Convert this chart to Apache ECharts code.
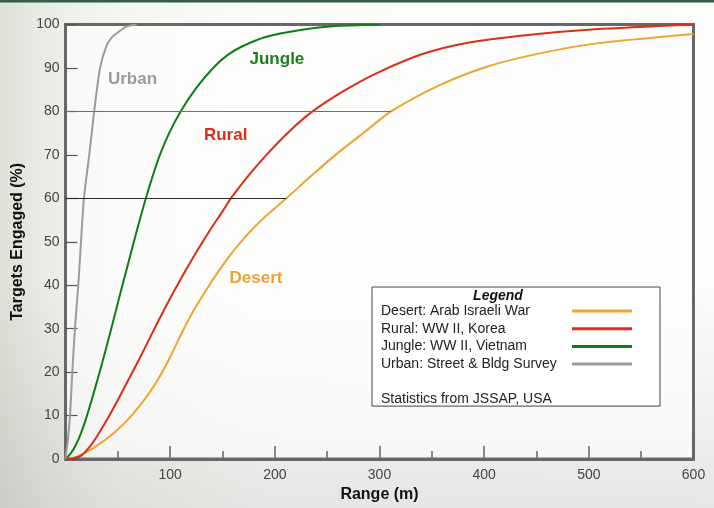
<!DOCTYPE html>
<html>
<head>
<meta charset="utf-8">
<script src="https://cdn.jsdelivr.net/npm/echarts@6/dist/echarts.min.js"></script>
<style>
html, body { margin: 0; padding: 0; }
body {
  width: 714px; height: 508px; overflow: hidden;
  background:
    linear-gradient(180deg, #2f5f45 0px, #2f5f45 2px, rgba(0,0,0,0) 3px),
    linear-gradient(180deg, rgba(0,0,0,0) 55%, rgba(0,0,0,0.09) 100%),
    linear-gradient(90deg, #dde1d8 0px, #e9ece5 45px, #f5f6f2 120px, #fcfcfa 260px, #fdfdfc 714px);
}
#chart { width: 714px; height: 508px; }
</style>
</head>
<body>
<div id="chart"></div>
<script>
// ---- data (range in metres, targets engaged in %) ----
const seriesNames = ['Desert: Arab Israeli War', 'Rural: WW II, Korea', 'Jungle: WW II, Vietnam', 'Urban: Street & Bldg Survey'];
const curveLabels = ['Desert', 'Rural', 'Jungle', 'Urban'];

const desertRange = [0, 10, 20, 30, 40, 50, 60, 70, 80, 90, 100, 110, 122, 136, 150, 166, 185, 211, 234, 258, 287, 311, 357, 404, 452, 506, 600];
const desertPct   = [0, 0.5, 1.6, 3.1, 4.8, 6.8, 9.2, 12, 15.2, 19, 23.5, 28.5, 34, 39.5, 44.5, 49.5, 54.5, 60, 65, 70, 75.5, 80, 86, 90.4, 93.3, 95.6, 97.8];

const ruralRange = [0, 8, 15, 23, 30, 40, 50, 60, 70, 80, 90, 100, 110, 120, 130, 140, 150, 158, 174, 192, 212, 236, 268, 300, 341, 382, 442, 506, 600];
const ruralPct   = [0, 0.2, 0.8, 2.8, 5.2, 9.2, 13.6, 18.2, 22.8, 27.6, 32.4, 37, 41.4, 45.6, 49.6, 53.4, 57, 60, 65, 70, 75, 80, 85, 89.1, 93.2, 95.7, 97.6, 98.9, 100];

const jungleRange = [0, 5, 10, 15, 20, 25, 30, 35, 40, 45, 52, 58, 64, 70, 76, 83, 90, 99, 110, 125, 141, 155, 169, 192, 223, 255, 300];
const junglePct   = [0, 1.3, 3.3, 6.1, 9.6, 13.6, 17.8, 22.1, 26.6, 31.2, 37.8, 43.3, 48.8, 54.2, 59.4, 64.9, 69.9, 75, 80, 85.4, 90, 93, 95, 97.2, 98.7, 99.6, 100];

const urbanRange = [0, 1, 2.5, 4.3, 6.5, 9, 12.2, 14.8, 17.6, 22.7, 27.4, 33, 39, 44, 49, 58, 68];
const urbanPct   = [0, 2, 5, 10, 20, 30, 40, 50, 60, 70, 80, 90, 95, 97, 98, 99.5, 100];

// curve label anchor positions [range, pct]
const labelPos = [[182, 41.7], [153, 74.6], [202, 92], [64, 87.5]];
// reference lines: [pct, end range]
const refLines = [[80, 311], [60, 211]];

const xTicks = [0, 100, 200, 300, 400, 500, 600];
const yTicks = [0, 10, 20, 30, 40, 50, 60, 70, 80, 90, 100];

// ---- styling ----
const FONT = 'Liberation Sans, Arial, sans-serif';
const lineColors  = ['#f0a330', '#dc2e14', '#0e7d12', '#9b9b9b'];
const labelColors = ['#eea236', '#d8301c', '#1b7d1b', '#9a9a9a'];

function zip(xs, ys) { return xs.map((x, i) => [x, ys[i]]); }
const allData = [zip(desertRange, desertPct), zip(ruralRange, ruralPct), zip(jungleRange, junglePct), zip(urbanRange, urbanPct)];

const series = allData.map((d, i) => {
  const s = {
    name: seriesNames[i],
    type: 'line',
    data: d,
    showSymbol: false,
    symbol: 'none',
    smooth: 0.25,
    lineStyle: { color: lineColors[i], width: 2 },
    itemStyle: { color: lineColors[i] },
    z: 3,
    markPoint: {
      silent: true,
      symbol: 'rect',
      symbolSize: 1,
      itemStyle: { color: 'rgba(0,0,0,0)' },
      label: {
        show: true, position: 'inside', formatter: curveLabels[i],
        color: labelColors[i], fontSize: 17, fontWeight: 'bold', fontFamily: FONT
      },
      data: [{ coord: labelPos[i] }]
    }
  };
  if (i === 0) {
    s.markLine = {
      silent: true,
      symbol: ['none', 'none'],
      label: { show: false },
      lineStyle: { type: 'solid', width: 1 },
      data: refLines.map((r, k) => [
        { coord: [0, r[0]], lineStyle: { color: k === 0 ? '#6f6f6f' : '#2a2a2a', width: 1, type: 'solid' } },
        { coord: [r[1], r[0]] }
      ])
    };
  }
  return s;
});

const chart = echarts.init(document.getElementById('chart'), null, { renderer: 'canvas' });
chart.setOption({
  animation: false,
  textStyle: { fontFamily: FONT },
  grid: {
    left: 65.5, right: 20.5, top: 24.5, bottom: 48.5,
    show: true, borderColor: '#676767', borderWidth: 3,
    backgroundColor: 'rgba(255,255,255,0.62)'
  },
  xAxis: {
    type: 'value', min: xTicks[0], max: xTicks[xTicks.length - 1], interval: 100,
    name: 'Range (m)', nameLocation: 'middle', nameGap: 26,
    nameTextStyle: { fontSize: 16, fontWeight: 'bold', color: '#111', fontFamily: FONT },
    axisLine: { show: true, lineStyle: { color: '#676767', width: 3 } },
    axisTick: { show: true, inside: true, length: 13, lineStyle: { color: '#666', width: 1.5 } },
    minorTick: { show: true, splitNumber: 2, length: 8, lineStyle: { color: '#666', width: 1.5 } },
    splitLine: { show: false },
    axisLabel: { fontSize: 14, color: '#444', margin: 9, fontFamily: FONT, formatter: v => (v === 0 ? '' : String(v)) }
  },
  yAxis: {
    type: 'value', min: yTicks[0], max: yTicks[yTicks.length - 1], interval: 10,
    name: 'Targets Engaged (%)', nameLocation: 'middle', nameGap: 32,
    nameTextStyle: { fontSize: 16, fontWeight: 'bold', color: '#111', fontFamily: FONT },
    axisLine: { show: true, lineStyle: { color: '#676767', width: 3 } },
    axisTick: { show: true, inside: true, length: 12, lineStyle: { color: '#555', width: 1.2 } },
    splitLine: { show: false },
    axisLabel: { fontSize: 14, color: '#444', margin: 6, fontFamily: FONT }
  },
  legend: {
    orient: 'vertical', left: 372, top: 287,
    align: 'right', icon: 'rect', itemWidth: 60, itemHeight: 3, itemGap: 3.7,
    padding: [17, 28, 35, 9],
    borderColor: '#444', borderWidth: 1, backgroundColor: 'rgba(255,255,255,0.85)',
    selectedMode: false,
    data: seriesNames,
    formatter: name => '{t|' + name + '}',
    textStyle: {
      rich: { t: { width: 186, align: 'left', fontSize: 14, lineHeight: 17.7, color: '#222', fontFamily: FONT } }
    }
  },
  graphic: [
    { type: 'text', x: 498, y: 296, z: 100, silent: true,
      style: { text: 'Legend', textAlign: 'center', textVerticalAlign: 'middle', fontSize: 14, fontWeight: 'bold', fontStyle: 'italic', fontFamily: FONT, fill: '#111' } },
    { type: 'text', x: 381, y: 399, z: 100, silent: true,
      style: { text: 'Statistics from JSSAP, USA', textAlign: 'left', textVerticalAlign: 'middle', fontSize: 14, fontFamily: FONT, fill: '#222' } }
  ],
  series: series
});
</script>
</body>
</html>
